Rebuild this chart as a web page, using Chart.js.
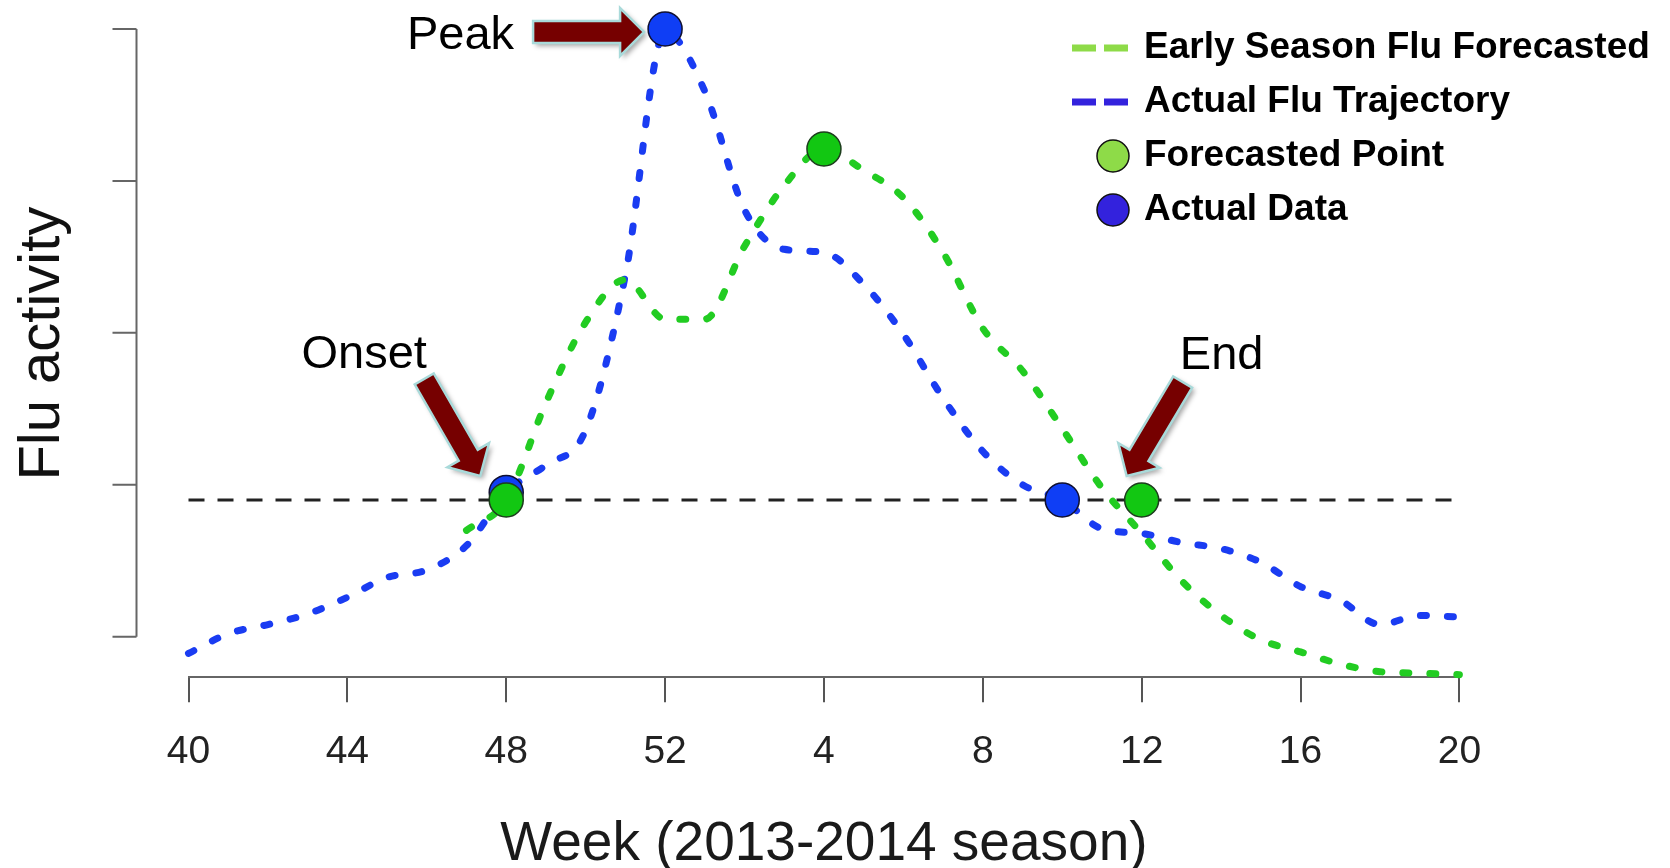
<!DOCTYPE html>
<html>
<head>
<meta charset="utf-8">
<title>Flu activity 2013-2014</title>
<script src="https://cdn.jsdelivr.net/npm/chart.js@4.4.1/dist/chart.umd.min.js"></script>
<style>
  html, body { margin: 0; padding: 0; background: #fff; }
  #wrap { width: 1670px; height: 868px; }
</style>
</head>
<body>
<div id="wrap"><canvas id="flu-chart" width="1670" height="868"></canvas></div>
<script>
// season weeks: 40..52 of 2013, then 1..20 of 2014
var weeks = ['40','41','42','43','44','45','46','47','48','49','50','51','52',
             '1','2','3','4','5','6','7','8','9','10','11','12','13','14','15','16','17','18','19','20'];
var tickLabels = ['40','44','48','52','4','8','12','16','20'];
var yTicks = [0, 1, 2, 3, 4];

var actualFlu = [-0.11, 0.02, 0.08, 0.15, 0.26, 0.39, 0.44, 0.60, 0.95, 1.13, 1.36, 2.38, 3.98,
                 3.59, 2.81, 2.55, 2.53, 2.32, 1.99, 1.57, 1.22, 1.00, 0.90, 0.71, 0.68, 0.62,
                 0.58, 0.49, 0.33, 0.24, 0.08, 0.14, 0.13];
var forecastFlu = [null, null, null, null, null, null, null, 0.70, 0.90, 1.54, 2.07, 2.35, 2.09,
                   2.09, 2.57, 2.97, 3.21, 3.07, 2.89, 2.53, 2.03, 1.75, 1.37, 0.98, 0.68, 0.37,
                   0.14, -0.02, -0.10, -0.18, -0.23, -0.24, -0.25];
var baseline = 0.9;

var actualPointWeeks = ['48', '52', '10'];
var actualPointValues = [0.95, 4.0, 0.9];
var forecastPointWeeks = ['48', '4', '12'];
var forecastPointValues = [0.9, 3.21, 0.9];

var labelFont = '"Liberation Sans", Arial, sans-serif';

function toXY(values) {
  return values.map(function (v, i) { return { x: i, y: v }; });
}
function pointsXY(wks, values) {
  return wks.map(function (w, i) { return { x: weeks.indexOf(w), y: values[i] }; });
}

// arrows + captions hang off the marked points
var notes = [
  { text: 'Peak',  week: '52', value: 4.0, tip: [-21, 3],   tail: [-132, 3],   label: [-151, 7],    align: 'right' },
  { text: 'Onset', week: '48', value: 0.9, tip: [-26, -24], tail: [-82, -121], label: [-142, -145], align: 'center' },
  { text: 'End',   week: '12', value: 0.9, tip: [-15, -24], tail: [41, -118],  label: [80, -144],   align: 'center' }
];

function drawArrow(ctx, x0, y0, x1, y1) {
  var dx = x1 - x0, dy = y1 - y0, L = Math.hypot(dx, dy);
  var ux = dx / L, uy = dy / L, nx = -uy, ny = ux;
  var bh = 11, hh = 24, hl = 24;
  var bx = x1 - ux * hl, by = y1 - uy * hl;
  ctx.beginPath();
  ctx.moveTo(x0 + nx * bh, y0 + ny * bh);
  ctx.lineTo(bx + nx * bh, by + ny * bh);
  ctx.lineTo(bx + nx * hh, by + ny * hh);
  ctx.lineTo(x1, y1);
  ctx.lineTo(bx - nx * hh, by - ny * hh);
  ctx.lineTo(bx - nx * bh, by - ny * bh);
  ctx.lineTo(x0 - nx * bh, y0 - ny * bh);
  ctx.closePath();
  ctx.save();
  ctx.shadowColor = 'rgba(0,0,0,0.35)';
  ctx.shadowBlur = 5;
  ctx.shadowOffsetX = 3;
  ctx.shadowOffsetY = 3;
  ctx.fillStyle = '#760000';
  ctx.fill();
  ctx.restore();
  ctx.strokeStyle = '#a9dada';
  ctx.lineWidth = 2.5;
  ctx.stroke();
}

var fluExtras = {
  id: 'fluExtras',
  afterDatasetsDraw: function (chart) {
    var ctx = chart.ctx, xs = chart.scales.x, ys = chart.scales.y;

    // detached y axis like R's default
    var ax = chart.chartArea.left - 52;
    ctx.save();
    ctx.strokeStyle = '#666';
    ctx.lineWidth = 2;
    ctx.beginPath();
    ctx.moveTo(ax, ys.getPixelForValue(yTicks[0]));
    ctx.lineTo(ax, ys.getPixelForValue(yTicks[yTicks.length - 1]));
    yTicks.forEach(function (t) {
      var py = ys.getPixelForValue(t);
      ctx.moveTo(ax - 24, py);
      ctx.lineTo(ax, py);
    });
    ctx.stroke();

    notes.forEach(function (n) {
      var px = xs.getPixelForValue(weeks.indexOf(n.week));
      var py = ys.getPixelForValue(n.value);
      drawArrow(ctx, px + n.tail[0], py + n.tail[1], px + n.tip[0], py + n.tip[1]);
      ctx.fillStyle = '#000';
      ctx.font = '47px ' + labelFont;
      ctx.textAlign = n.align;
      ctx.textBaseline = 'middle';
      ctx.fillText(n.text, px + n.label[0], py + n.label[1]);
    });
    ctx.restore();
  },
  afterDraw: function (chart) {
    var ctx = chart.ctx;
    var ds = chart.data.datasets;
    var rows = [
      { kind: 'line', color: '#8edb48', text: ds[1].label },
      { kind: 'line', color: '#3322dd', text: ds[2].label },
      { kind: 'dot',  color: '#8edb48', text: ds[3].label },
      { kind: 'dot',  color: '#3322dd', text: ds[4].label }
    ];
    var lx = 1072, tx = 1144, y0 = 48, dy = 54;
    ctx.save();
    rows.forEach(function (r, i) {
      var y = y0 + i * dy;
      if (r.kind === 'line') {
        ctx.strokeStyle = r.color;
        ctx.lineWidth = 7;
        ctx.setLineDash([24, 8]);
        ctx.beginPath();
        ctx.moveTo(lx, y);
        ctx.lineTo(lx + 56, y);
        ctx.stroke();
        ctx.setLineDash([]);
      } else {
        ctx.beginPath();
        ctx.arc(lx + 41, y, 16, 0, Math.PI * 2);
        ctx.fillStyle = r.color;
        ctx.fill();
        ctx.strokeStyle = '#111';
        ctx.lineWidth = 1.5;
        ctx.stroke();
      }
      ctx.fillStyle = '#000';
      ctx.font = 'bold 37px ' + labelFont;
      ctx.textAlign = 'left';
      ctx.textBaseline = 'middle';
      ctx.fillText(r.text, tx, y);
    });
    ctx.restore();
  }
};

var ctx = document.getElementById('flu-chart').getContext('2d');
var fluChart = new Chart(ctx, {
  type: 'line',
  data: {
    datasets: [{
      label: 'Threshold',
      data: [{ x: 0, y: baseline }, { x: weeks.length - 1, y: baseline }],
      borderColor: '#222',
      borderWidth: 3,
      borderDash: [16, 13],
      pointRadius: 0,
      order: 5
    }, {
      label: 'Early Season Flu Forecasted',
      data: toXY(forecastFlu),
      borderColor: '#22cc22',
      borderWidth: 7,
      borderDash: [6, 21],
      borderCapStyle: 'round',
      cubicInterpolationMode: 'monotone',
      pointRadius: 0,
      order: 3
    }, {
      label: 'Actual Flu Trajectory',
      data: toXY(actualFlu),
      borderColor: '#1a3cf2',
      borderWidth: 7,
      borderDash: [6, 21],
      borderCapStyle: 'round',
      cubicInterpolationMode: 'monotone',
      pointRadius: 0,
      order: 4
    }, {
      label: 'Forecasted Point',
      data: pointsXY(forecastPointWeeks, forecastPointValues),
      showLine: false,
      pointRadius: 17,
      pointBackgroundColor: '#12c712',
      pointBorderColor: '#1d3d1d',
      pointBorderWidth: 1.5,
      order: 1
    }, {
      label: 'Actual Data',
      data: pointsXY(actualPointWeeks, actualPointValues),
      showLine: false,
      pointRadius: 17,
      pointBackgroundColor: '#0f3ef5',
      pointBorderColor: '#101030',
      pointBorderWidth: 1.5,
      order: 2
    }]
  },
  options: {
    responsive: false,
    animation: false,
    devicePixelRatio: 1,
    layout: { autoPadding: false, padding: { top: 10, right: 210.6, bottom: 0, left: 0 } },
    elements: { point: { hoverRadius: 17 } },
    datasets: { line: { clip: false } },
    plugins: {
      legend: { display: false },
      tooltip: { enabled: false }
    },
    scales: {
      x: {
        type: 'linear',
        min: 0,
        max: weeks.length - 1,
        afterFit: function (scale) { scale.height = 190.7; },
        border: { display: true, color: '#666', width: 2 },
        grid: { drawOnChartArea: false, drawTicks: true, tickLength: 25, color: '#555', lineWidth: 2 },
        ticks: {
          stepSize: 4,
          padding: 27,
          color: '#222',
          font: { family: labelFont, size: 39, lineHeight: 1.2 },
          maxRotation: 0,
          autoSkip: false,
          callback: function (v) { return tickLabels[Math.round(v / 4)]; }
        },
        title: {
          display: true,
          text: 'Week (2013-2014 season)',
          color: '#1a1a1a',
          font: { family: labelFont, size: 55, lineHeight: 0.85 },
          padding: { top: 0, bottom: 0 }
        }
      },
      y: {
        type: 'linear',
        min: -0.267,
        max: 4.125,
        afterFit: function (scale) { scale.width = 188.5; },
        border: { display: false },
        grid: { display: false },
        ticks: { display: false },
        title: {
          display: true,
          text: 'Flu activity',
          color: '#111',
          font: { family: labelFont, size: 58, lineHeight: 1 },
          padding: { top: 14, bottom: 0 }
        }
      }
    }
  },
  plugins: [fluExtras]
});
</script>
</body>
</html>
